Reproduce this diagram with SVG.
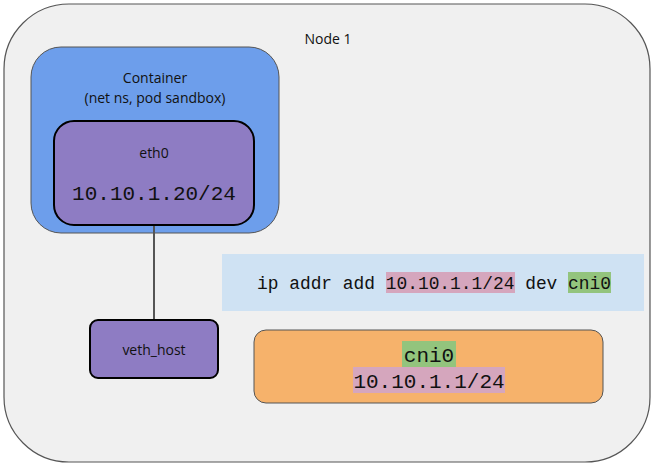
<svg xmlns="http://www.w3.org/2000/svg" width="657" height="467" viewBox="0 0 657 467">
<style>
.s{font-family:"Open Sans","DejaVu Sans",sans-serif;font-size:14px;fill:#111;text-anchor:middle}
.m{font-family:"Liberation Mono",monospace;fill:#111}
.pk{fill:#d5a6bd}.gr{fill:#93c47d}
</style>
<rect width="657" height="467" fill="#fff"/>
<g id="node1"><rect x="4" y="4" width="646" height="458" rx="65" fill="#f0f0f0" stroke="#555" stroke-width="1.2"/>
<text class="s" x="328" y="44">Node 1</text></g>
<g id="container"><rect x="31" y="47" width="248" height="186" rx="30" fill="#6d9eeb" stroke="#555" stroke-width="1"/>
<text class="s" x="155" y="83">Container</text><text class="s" x="155" y="103">(net ns, pod sandbox)</text></g>
<g id="connectors"><line x1="154" y1="225" x2="154" y2="320" stroke="#555" stroke-width="2"/></g>
<g id="eth0"><rect x="54" y="121" width="200" height="104" rx="20" fill="#8e7cc3" stroke="#000" stroke-width="2"/>
<text class="s" x="154" y="158">eth0</text><text class="m" x="154" y="200" font-size="21" text-anchor="middle">10.10.1.20/24</text></g>
<g id="veth_host"><rect x="90" y="320" width="128" height="58" rx="8" fill="#8e7cc3" stroke="#000" stroke-width="2"/>
<text class="s" x="154" y="355">veth_host</text></g>
<g id="cmd"><rect x="222" y="254" width="422" height="57" fill="#cfe2f3"/>
<rect class="pk" x="386" y="272" width="129" height="21"/><rect class="gr" x="568" y="272" width="43" height="21"/>
<text class="m" x="257" y="289" font-size="17.9" textLength="354">ip addr add 10.10.1.1/24 dev cni0</text></g>
<g id="cni0"><rect x="254" y="330" width="349" height="73" rx="12" fill="#f6b26b" stroke="#555" stroke-width="1"/>
<rect class="gr" x="402" y="341" width="54" height="26"/><rect class="pk" x="353" y="367" width="152" height="26"/>
<text class="m" x="429" y="362" font-size="21" text-anchor="middle">cni0</text>
<text class="m" x="429" y="388" font-size="21" text-anchor="middle">10.10.1.1/24</text></g>
</svg>
